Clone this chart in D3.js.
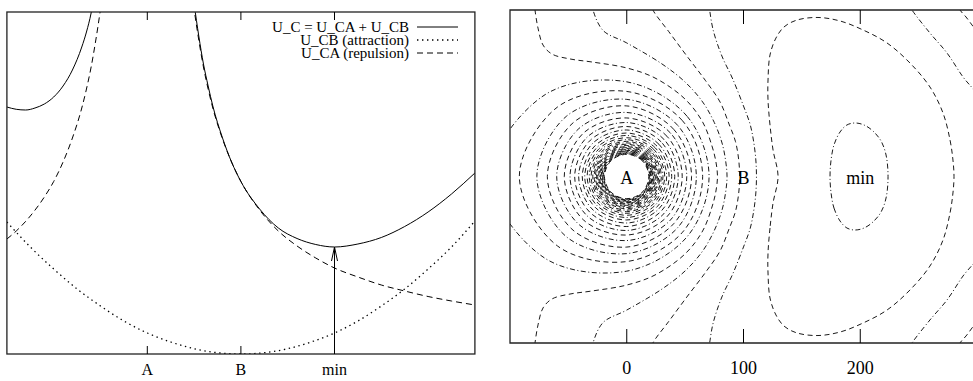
<!DOCTYPE html>
<html>
<head>
<meta charset="utf-8">
<script src="https://cdnjs.cloudflare.com/ajax/libs/d3/7.8.5/d3.min.js"></script>
<style>
html, body { margin: 0; padding: 0; background: #fff; }
svg { display: block; font-family: "Liberation Serif", "Times New Roman", serif; }
</style>
</head>
<body>
<svg id="chart" width="973" height="381"></svg>
<script>
// ---- data: left panel (potential along the A-B axis) ----
const tickPos = [0, 100, 200];
const leftTickLabels = ['A', 'B', 'min'];
const rightTickLabels = ['0', '100', '200'];
const legendLabels = ['U_C = U_CA + U_CB', 'U_CB (attraction)', 'U_CA (repulsion)'];

const solidLeftX = [-150, -140, -130, -120, -110, -100, -90, -80, -70, -65, -60, -57];
const solidLeftU = [247, 244.7, 244, 246, 250, 257, 268, 284, 307, 322, 341, 356];
const solidRightX = [50, 55, 60, 65, 70, 80, 90, 100, 120, 140, 160, 180, 200, 225, 250, 275, 300, 325, 350];
const solidRightU = [350, 318, 290, 268, 248, 217, 192, 172.5, 145, 126, 115.5, 109.5, 107, 110, 116.5, 127.5, 142, 160, 181];
const dashLeftX = [-150, -140, -125, -110, -100, -90, -80, -70, -65, -60, -55, -50, -48];
const dashLeftU = [115, 123, 138, 157, 172.5, 192, 216, 246, 265, 287, 314, 345, 359];
const dashRightX = [48, 50, 55, 60, 65, 70, 80, 90, 100, 120, 140, 160, 180, 200, 225, 250, 275, 300, 325, 350];
const dashRightU = [359, 345, 314, 287, 265, 246, 216, 192, 172.5, 144, 123, 108, 96, 86, 77, 69, 63, 57.5, 53, 49];
const dotX = [-150, -125, -100, -75, -50, -25, 0, 25, 50, 75, 100, 125, 150, 175, 200, 225, 250, 275, 300, 325, 350];
const dotU = [132, 107, 85, 65, 48, 33, 21, 12, 5.3, 1.3, 0, 1.3, 5.3, 12, 21, 33, 48, 65, 85, 107, 133];
const minX = 200, minU = 107;

// ---- data: right panel (contour map), upper halves, the map is symmetric about y = 0 ----
// closed rings around A: radius towards +x, 45deg, 90deg, 135deg, -x  (level 6 onwards)
const ringR0   = [70.5, 65, 59.6, 55.5, 51.4, 47.5, 44.1, 41.1, 38.5, 36.3, 34.2, 32.5, 31.0, 29.6, 28.4, 27.3, 26.3, 25.3, 24.5, 23.7, 22.9, 22.3, 21.7, 21.1, 20.5, 19.9, 19.4, 18.9];
const ringR45  = [73, 67.5, 61.8, 57, 52.8, 48.7, 45, 41.8, 39, 36.7, 34.6, 32.8, 31.2, 29.8, 28.6, 27.4, 26.4, 25.4, 24.6, 23.8, 23.0, 22.35, 21.7, 21.1, 20.5, 19.95, 19.45, 18.95];
const ringR90  = [81, 72.8, 66, 60.4, 54.8, 50.1, 46.2, 42.8, 39.8, 37.2, 35.1, 33.2, 31.5, 30.1, 28.8, 27.6, 26.5, 25.6, 24.7, 23.9, 23.1, 22.4, 21.8, 21.15, 20.55, 20.0, 19.5, 19.0];
const ringR135 = [99, 84, 73, 65, 58, 52.5, 47.8, 44, 40.7, 37.8, 35.6, 33.6, 31.9, 30.3, 29.0, 27.8, 26.7, 25.8, 24.8, 24.0, 23.2, 22.5, 21.85, 21.2, 20.6, 20.05, 19.55, 19.05];
const ringR180 = [117, 92, 77, 68, 60, 53.5, 48.6, 44.6, 41.2, 38.1, 36.0, 33.9, 32.1, 30.5, 29.1, 27.9, 26.8, 25.9, 24.9, 24.1, 23.3, 22.6, 21.9, 21.3, 20.7, 20.1, 19.6, 19.1];

// closed loops around the minimum (upper half, left axis point to right axis point)
const loop0 = [[174.1, 0], [175, 14.1], [177.5, 27], [182.7, 38.1], [188.6, 44.1], [195.5, 45.8], [203.2, 44.1], [210.9, 38.9], [217.8, 30.4], [222.1, 18.4], [223.8, 0]];
const loop1 = [[129.6, 0], [125.3, 22.7], [122.7, 44.1], [121, 65.5], [121, 82.6], [122.7, 104], [127.8, 118.5], [134.7, 128], [145.8, 133.9], [163.8, 136.1], [182.7, 133.1], [202.4, 125.4], [222.9, 114.3], [242.6, 97.1], [259.7, 76.6], [270.9, 54.3], [276.9, 31.2], [279.4, 14.1], [280.3, 0]];

// open contours leaving through top and bottom (upper half, from the top edge to the axis)
const open2a = [[70, 150], [71, 142.5], [74, 125.4], [81.5, 103.1], [90.8, 83.4], [100, 60.3], [105.6, 44.9], [108.6, 30.4], [110.5, 15], [111.1, 0]];
const open2b = [[240, 150], [244.3, 142.5], [259.7, 122.8], [274.3, 105.7], [288, 85.2], [300, 70], [312, 40], [317, 0]];
const open3a = [[20, 150], [22.4, 142.5], [36, 124], [51.5, 103.1], [67.5, 82], [79.9, 63.8], [87.6, 44.9], [93.1, 30], [95.8, 15], [96.7, 0]];
const open3b = [[282, 150], [285.4, 142.5], [290.6, 136.5], [295.7, 129.7], [300, 123.7], [315, 100], [335, 55], [345, 0]];
const open4 = [[-30, 150], [-28.9, 142.5], [-20.3, 125], [0, 114.3], [30.2, 96.3], [49.9, 80.9], [65, 63.8], [75, 46.2], [81.6, 28.7], [84.6, 14.1], [85.9, 0]];
const open5 = [[-79.5, 150], [-78.6, 142.5], [-76, 127], [-71.7, 112.5], [-64, 104.8], [-48.6, 100.6], [-29.8, 98], [0, 92.9], [24.2, 84.3], [49.9, 66.3], [65, 46.6], [73, 26.1], [76.4, 12.4], [77.7, 0]];

const pointLabels = [{ t: 'A', x: 0 }, { t: 'B', x: 100 }, { t: 'min', x: 200 }];

// ---- setup ----
const svg = d3.select('#chart');
const DASH = '5,3.5', DASHDOT = '5,2.5,1,2.5';

const lx = d3.scaleLinear().domain([-150, 350]).range([6.9, 474.9]);
const ly = d3.scaleLinear().domain([0, 342]).range([354, 12]);
const rx = d3.scaleLinear().domain([-100, 300]).range([510, 977]);
const ry = d3.scaleLinear().domain([-142.5, 142.5]).range([343, 10]);

const defs = svg.append('defs');
defs.append('clipPath').attr('id', 'clipL').append('rect')
    .attr('x', lx(-150)).attr('y', ly(342)).attr('width', lx(350) - lx(-150)).attr('height', ly(0) - ly(342));
defs.append('clipPath').attr('id', 'clipR').append('rect')
    .attr('x', rx(-100)).attr('y', ry(142.5)).attr('width', rx(300) - rx(-100)).attr('height', ry(-142.5) - ry(142.5));

// ---- left panel ----
const left = svg.append('g');
const plotL = left.append('g').attr('clip-path', 'url(#clipL)');

const line1d = d3.line().x(d => lx(d[0])).y(d => ly(d[1])).curve(d3.curveMonotoneX);
const zip = (xs, us) => xs.map((v, i) => [v, us[i]]);
const DOTS = '1.4,3.6';

function curve1d(xs, us, dash, w) {
    plotL.append('path')
        .attr('d', line1d(zip(xs, us)))
        .attr('fill', 'none')
        .attr('stroke', '#000')
        .attr('stroke-width', w || 1)
        .attr('stroke-dasharray', dash);
}
curve1d(dotX, dotU, DOTS, 1.3);
curve1d(dashLeftX, dashLeftU, '6,4');
curve1d(dashRightX, dashRightU, '6,4');
curve1d(solidLeftX, solidLeftU, null);
curve1d(solidRightX, solidRightU, null);

// arrow pointing at the minimum
left.append('line')
    .attr('x1', lx(minX)).attr('x2', lx(minX))
    .attr('y1', ly(0)).attr('y2', ly(minU))
    .attr('stroke', '#000').attr('stroke-width', 1);
left.append('path')
    .attr('d', `M${lx(minX) - 3},${ly(minU) + 14}L${lx(minX)},${ly(minU)}L${lx(minX) + 3},${ly(minU) + 14}`)
    .attr('fill', 'none').attr('stroke', '#000').attr('stroke-width', 1);

left.append('rect')
    .attr('x', lx(-150)).attr('y', ly(342))
    .attr('width', lx(350) - lx(-150)).attr('height', ly(0) - ly(342))
    .attr('fill', 'none').attr('stroke', '#222').attr('stroke-width', 1.3);

tickPos.forEach((t, i) => {
    left.append('line').attr('x1', lx(t)).attr('x2', lx(t)).attr('y1', ly(0)).attr('y2', ly(0) - 8)
        .attr('stroke', '#000');
    left.append('line').attr('x1', lx(t)).attr('x2', lx(t)).attr('y1', ly(342)).attr('y2', ly(342) + 8)
        .attr('stroke', '#000');
    left.append('text').attr('x', lx(t)).attr('y', 375)
        .attr('text-anchor', 'middle').attr('font-size', 16)
        .text(leftTickLabels[i]);
});

// legend
const legendDash = [null, DOTS, '6,4'];
legendLabels.forEach((lab, i) => {
    const yb = 32 + i * 13;
    left.append('text').attr('x', 409).attr('y', yb)
        .attr('text-anchor', 'end').attr('font-size', 15).text(lab);
    left.append('line').attr('x1', 417).attr('x2', 458)
        .attr('y1', yb - 5).attr('y2', yb - 5)
        .attr('stroke', '#000').attr('stroke-width', i === 1 ? 1.3 : 1)
        .attr('stroke-dasharray', legendDash[i]);
});

// ---- right panel ----
const right = svg.append('g');
const plotR = right.append('g').attr('clip-path', 'url(#clipR)');

const line2d = d3.line().x(d => rx(d[0])).y(d => ry(d[1]));
const styleFor = level => (level % 2 === 0 ? DASHDOT : DASH);

function contour(points, closed, level) {
    plotR.append('path')
        .attr('d', line2d.curve(closed ? d3.curveCatmullRomClosed.alpha(0.5) : d3.curveCatmullRom.alpha(0.5))(points))
        .attr('fill', 'none')
        .attr('stroke', '#000')
        .attr('stroke-width', 0.9)
        .attr('stroke-dasharray', styleFor(level));
}

// upper half + mirrored lower half
function mirrored(upper, closed) {
    const lower = upper.slice().reverse().map(p => [p[0], -p[1]]);
    if (closed) return upper.concat(lower.slice(1, -1));
    return upper.concat(lower.slice(1));
}

contour(mirrored(loop0, true).reverse(), true, 0);
contour(mirrored(loop1, true).reverse(), true, 1);
contour(mirrored(open2a, false), false, 2);
contour(mirrored(open2b, false), false, 2);
contour(mirrored(open3a, false), false, 3);
contour(mirrored(open3b, false), false, 3);
contour(mirrored(open4, false), false, 4);
contour(mirrored(open5, false), false, 5);

const angles = [0, 45, 90, 135, 180, 225, 270, 315].map(a => a * Math.PI / 180);
ringR0.forEach((r0, i) => {
    const radii = [r0, ringR45[i], ringR90[i], ringR135[i], ringR180[i], ringR135[i], ringR90[i], ringR45[i]];
    const pts = radii.map((r, k) => [r * Math.cos(angles[k]), r * Math.sin(angles[k])]);
    contour(pts, true, 6 + i);
});

// frame (right edge falls outside the picture)
right.append('path')
    .attr('d', `M${rx(300)},${ry(142.5)}H${rx(-100)}V${ry(-142.5)}H${rx(300)}`)
    .attr('fill', 'none').attr('stroke', '#222').attr('stroke-width', 1.3);

tickPos.forEach((t, i) => {
    right.append('line').attr('x1', rx(t)).attr('x2', rx(t)).attr('y1', ry(-142.5)).attr('y2', ry(-142.5) - 14)
        .attr('stroke', '#000');
    right.append('line').attr('x1', rx(t)).attr('x2', rx(t)).attr('y1', ry(142.5)).attr('y2', ry(142.5) + 14)
        .attr('stroke', '#000');
    right.append('text').attr('x', rx(t)).attr('y', 374)
        .attr('text-anchor', 'middle').attr('font-size', 18)
        .text(rightTickLabels[i]);
});

pointLabels.forEach(p => {
    right.append('text').attr('x', rx(p.x)).attr('y', ry(0) + 7)
        .attr('text-anchor', 'middle').attr('font-size', 18)
        .text(p.t);
});
</script>
</body>
</html>
